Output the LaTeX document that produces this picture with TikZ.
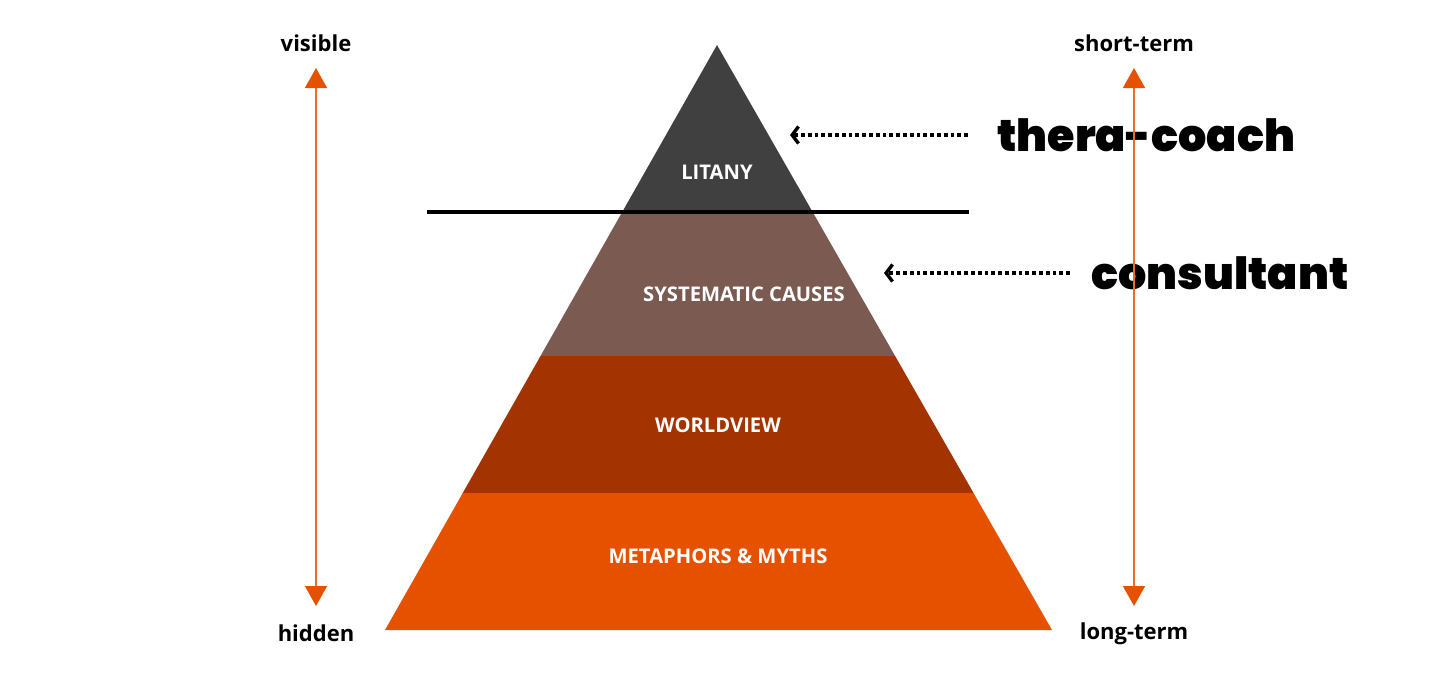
\documentclass[tikz,border=0pt]{standalone}
\usepackage{fontspec}
\setmainfont{Open Sans}
\newfontfamily\heavyfont{Poppins}[UprightFont={* Black}]
\usetikzlibrary{arrows.meta,positioning}

\definecolor{litanygray}{HTML}{404040}
\definecolor{causebrown}{HTML}{7B5A52}
\definecolor{worldred}{HTML}{A33300}
\definecolor{mythorange}{HTML}{E65100}
\definecolor{axisorange}{HTML}{EE6A2C}

\begin{document}
\begin{tikzpicture}[
    x=0.5pt, y=-0.5pt,
    axis/.style={
        {Triangle[length=10pt,width=11pt,color=mythorange]}-{Triangle[length=10pt,width=11pt,color=mythorange]},
        draw=axisorange,
        line width=0.8pt
    },
    endlabel/.style={
        font=\bfseries\fontsize{11}{13}\selectfont,
        text=black
    },
    layer/.style={
        font=\bfseries\fontsize{10.1}{12}\selectfont,
        text=white
    },
    role/.style={
        font=\heavyfont\fontsize{22.2}{26}\selectfont,
        anchor=west,
        inner sep=0pt
    },
    pointer/.style={
        -{Straight Barb[length=3.2pt,width=8.5pt]},
        line width=1.7pt,
        dash pattern=on 1.9pt off 1.5pt
    }
]
\useasboundingbox (0,0) rectangle (1456,676);

% pyramid
\coordinate (apex) at (717,45);
\coordinate (baseL) at (385,630);
\coordinate (baseR) at (1052,630);
\begin{scope}
    \clip (apex) -- (baseR) -- (baseL) -- cycle;
    \fill[litanygray] (300,0) rectangle (1150,212);
    \fill[causebrown] (300,212) rectangle (1150,356);
    \fill[worldred] (300,356) rectangle (1150,493);
    \fill[mythorange] (300,493) rectangle (1150,631);
\end{scope}

\node[layer] (litany) at (717,172) {LITANY};
\node[layer] (causes) at (744,294) {SYSTEMATIC CAUSES};
\node[layer] (world) at (718,425) {WORLDVIEW};
\node[layer] (myths) at (718,556) {METAPHORS \& MYTHS};

% divider
\coordinate (divL) at (427,212);
\coordinate (divR) at (969,212);
\draw[line width=2pt] (divL) -- (divR);

% axes
\node[endlabel] (visible) at (316,43) {visible};
\node[endlabel] (hidden) at (316,633) {hidden};
\node[endlabel] (short) at (1134,43) {short-term};
\node[endlabel] (long) at (1134,634) {long-term};

% roles
\node[role] (thera) at (997,135) {thera-coach};
\node[role] (consult) at (1091,273) {consultant};

\coordinate (visTip) at (316,68);
\coordinate (hidTip) at (316,606);
\coordinate (shortTip) at (1134,68);
\coordinate (longTip) at (1134,606);
\draw[axis] (visTip) -- (hidTip);
\draw[axis] (shortTip) -- (longTip);

\coordinate (theraTip) at (790,135);
\coordinate (consultTip) at (884,273);
\draw[pointer] (968,135) -- (theraTip);
\draw[pointer] (1070,273) -- (consultTip);

\end{tikzpicture}
\end{document}
